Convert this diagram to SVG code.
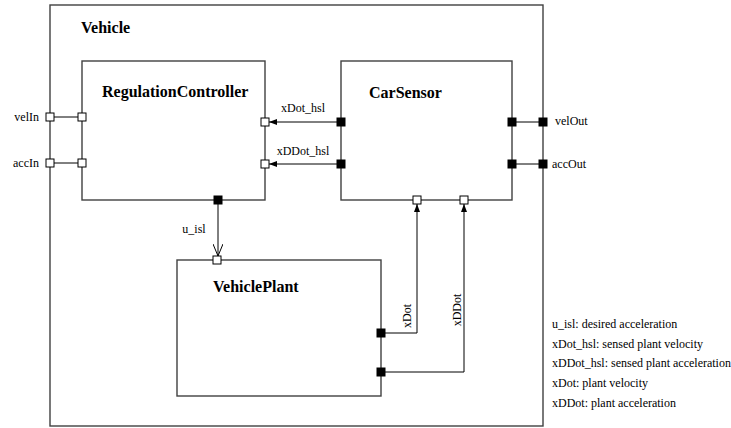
<svg xmlns="http://www.w3.org/2000/svg" width="731" height="428" viewBox="0 0 731 428">
<defs>
<style>
.box{fill:none;stroke:#404040;stroke-width:1.4}
.pin{fill:#fff;stroke:#000;stroke-width:1}
.pout{fill:#000;stroke:#000;stroke-width:1}
.wire{fill:none;stroke:#000;stroke-width:1}
.title{font-family:"Liberation Serif","Times New Roman",serif;font-weight:bold;font-size:16px;fill:#000}
.lbl{font-family:"Liberation Serif","Times New Roman",serif;font-size:12px;fill:#000}
</style>
<marker id="sa" viewBox="0 0 8 6" refX="8" refY="3" markerWidth="8" markerHeight="6" markerUnits="userSpaceOnUse" orient="auto">
<path d="M0,0 L8,3 L0,6 Z" fill="#000"/>
</marker>
<marker id="va" viewBox="0 0 12 10" refX="12" refY="5" markerWidth="12" markerHeight="10" markerUnits="userSpaceOnUse" orient="auto">
<path d="M0,0 L12,5 L0,10" fill="none" stroke="#000" stroke-width="1"/>
</marker>
</defs>
<g id="Vehicle">
<rect class="box" x="50" y="5" width="493" height="421"/>
<text class="title" x="81" y="33">Vehicle</text>
</g>
<g id="connectors">
<line class="wire" x1="50" y1="117" x2="82" y2="117"/>
<line class="wire" x1="50" y1="163" x2="82" y2="163"/>
<line class="wire" x1="341" y1="122" x2="269" y2="122" marker-end="url(#sa)"/>
<line class="wire" x1="341" y1="164" x2="269" y2="164" marker-end="url(#sa)"/>
<line class="wire" x1="512" y1="122" x2="543" y2="122"/>
<line class="wire" x1="512" y1="164" x2="543" y2="164"/>
<line class="wire" x1="218" y1="200" x2="218" y2="256" marker-end="url(#va)"/>
<polyline class="wire" points="381,333 417,333 417,204" marker-end="url(#sa)"/>
<polyline class="wire" points="381,372 464,372 464,204" marker-end="url(#sa)"/>
<text class="lbl" x="303" y="112" text-anchor="middle">xDot_hsl</text>
<text class="lbl" x="303" y="155" text-anchor="middle">xDDot_hsl</text>
<text class="lbl" x="194" y="233" text-anchor="middle">u_isl</text>
<text class="lbl" transform="translate(411,316) rotate(-90)" text-anchor="middle">xDot</text>
<text class="lbl" transform="translate(461,310) rotate(-90)" text-anchor="middle">xDDot</text>
</g>
<g id="RegulationController">
<rect class="box" x="82" y="61" width="183" height="139"/>
<text class="title" x="102" y="97">RegulationController</text>
</g>
<g id="CarSensor">
<rect class="box" x="341" y="61" width="171" height="139"/>
<text class="title" x="369" y="98">CarSensor</text>
</g>
<g id="VehiclePlant">
<rect class="box" x="177" y="260" width="204" height="136"/>
<text class="title" x="213" y="292">VehiclePlant</text>
</g>
<g id="ports">
<rect class="pin" x="46" y="113" width="8" height="8"/>
<rect class="pin" x="46" y="159" width="8" height="8"/>
<rect class="pin" x="78" y="113" width="8" height="8"/>
<rect class="pin" x="78" y="159" width="8" height="8"/>
<rect class="pin" x="261" y="118" width="8" height="8"/>
<rect class="pin" x="261" y="160" width="8" height="8"/>
<rect class="pout" x="214" y="196" width="8" height="8"/>
<rect class="pout" x="337" y="118" width="8" height="8"/>
<rect class="pout" x="337" y="160" width="8" height="8"/>
<rect class="pout" x="508" y="118" width="8" height="8"/>
<rect class="pout" x="508" y="160" width="8" height="8"/>
<rect class="pout" x="539" y="118" width="8" height="8"/>
<rect class="pout" x="539" y="160" width="8" height="8"/>
<rect class="pin" x="413" y="196" width="8" height="8"/>
<rect class="pin" x="460" y="196" width="8" height="8"/>
<rect class="pin" x="213" y="256" width="8" height="8"/>
<rect class="pout" x="377" y="329" width="8" height="8"/>
<rect class="pout" x="377" y="368" width="8" height="8"/>
<text class="lbl" x="39" y="121" text-anchor="end">velIn</text>
<text class="lbl" x="39" y="167" text-anchor="end">accIn</text>
<text class="lbl" x="555" y="125">velOut</text>
<text class="lbl" x="552" y="168">accOut</text>
</g>
<g id="legend">
<text class="lbl" x="552" y="328">u_isl: desired acceleration</text>
<text class="lbl" x="552" y="348">xDot_hsl: sensed plant velocity</text>
<text class="lbl" x="552" y="367">xDDot_hsl: sensed plant acceleration</text>
<text class="lbl" x="552" y="387">xDot: plant velocity</text>
<text class="lbl" x="552" y="407">xDDot: plant acceleration</text>
</g>
</svg>
